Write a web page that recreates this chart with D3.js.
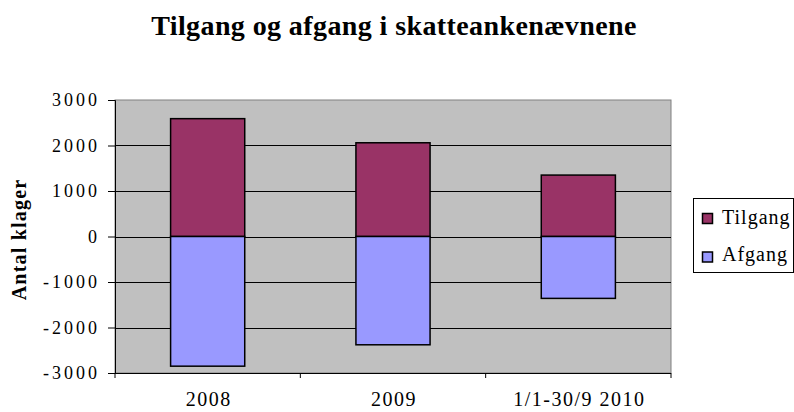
<!DOCTYPE html>
<html>
<head>
<meta charset="utf-8">
<script src="https://cdn.jsdelivr.net/npm/d3@7"></script>
<style>
  body { margin: 0; background: #fff; }
  svg text { font-family: "Liberation Serif", "Times New Roman", serif; fill: #000; }
</style>
</head>
<body>
<svg id="chart"></svg>
<script>
'use strict'

// data
const categories = ['2008', '2009', '1/1-30/9 2010']
const tilgang = [2590, 2060, 1350]
const afgang = [-2850, -2380, -1360]
const yTicks = [-3000, -2000, -1000, 0, 1000, 2000, 3000]
const seriesNames = ['Tilgang', 'Afgang']
const seriesColors = ['#993366', '#9999FF']

const width = 794, height = 412
const margins = {top: 100, right: 123, bottom: 39, left: 115}
const chartWidth = width - margins.left - margins.right
const chartHeight = height - margins.top - margins.bottom

const svg = d3.select('#chart').attr('width', width).attr('height', height)

// title
svg.append('text')
  .attr('x', 394).attr('y', 35)
  .attr('text-anchor', 'middle')
  .style('font-size', '28px').style('font-weight', 'bold').style('letter-spacing', '0.4px')
  .text('Tilgang og afgang i skatteankenævnene')

const g = svg.append('g').attr('transform', 'translate(' + margins.left + ',' + margins.top + ')')

const x = d3.scaleBand().domain(categories).range([0, chartWidth]).paddingInner(0.6).paddingOuter(0.3)
const y = d3.scaleLinear().domain([-3000, 3000]).range([chartHeight, 0])

// plot background
g.append('rect')
  .attr('width', chartWidth).attr('height', chartHeight)
  .attr('fill', '#C0C0C0').attr('stroke', '#808080').attr('stroke-width', 1)

// gridlines
g.selectAll('.grid').data(yTicks.filter(t => t > -3000 && t < 3000))
  .enter().append('line')
  .attr('x1', 0).attr('x2', chartWidth)
  .attr('y1', d => Math.round(y(d)) + 0.5).attr('y2', d => Math.round(y(d)) + 0.5)
  .attr('stroke', '#000').attr('stroke-width', 1)

// bars: positive part then negative part
const stacks = [tilgang, afgang]
stacks.forEach((vals, s) => {
  g.selectAll('.bar' + s).data(vals)
    .enter().append('rect')
    .attr('x', (d, i) => x(categories[i]))
    .attr('width', x.bandwidth())
    .attr('y', d => y(Math.max(0, d)))
    .attr('height', d => Math.abs(y(d) - y(0)))
    .attr('fill', seriesColors[s])
    .attr('stroke', '#000').attr('stroke-width', 1.5)
})

// y axis
const yAxis = g.append('g')
  .call(d3.axisLeft(y).tickValues(yTicks).tickSize(7).tickPadding(8).tickFormat(d => String(d)))
yAxis.select('.domain').attr('stroke', '#000')
yAxis.selectAll('text')
  .style('font-size', '18px').style('letter-spacing', '3px')
  .style('font-family', '"Liberation Serif", serif')

// x axis with ticks at category boundaries
const xAxis = g.append('g').attr('transform', 'translate(0,' + chartHeight + ')')
xAxis.append('line').attr('x1', 0).attr('x2', chartWidth).attr('y1', 0.5).attr('y2', 0.5).attr('stroke', '#000')
const step = chartWidth / categories.length
xAxis.selectAll('.xt').data(d3.range(categories.length + 1))
  .enter().append('line')
  .attr('x1', d => d * step).attr('x2', d => d * step)
  .attr('y1', 0).attr('y2', 5).attr('stroke', '#000')
xAxis.selectAll('.xl').data(categories)
  .enter().append('text')
  .attr('x', d => x(d) + x.bandwidth() / 2 + 1).attr('y', 33)
  .attr('text-anchor', 'middle')
  .style('font-size', '20px').style('letter-spacing', '1.5px')
  .text(d => d)

// y axis label
svg.append('text')
  .attr('transform', 'translate(26,' + (margins.top + chartHeight / 2 + 3) + ') rotate(-90)')
  .attr('text-anchor', 'middle')
  .style('font-size', '20px').style('font-weight', 'bold').style('letter-spacing', '1.2px')
  .text('Antal klager')

// legend
const legend = svg.append('g').attr('transform', 'translate(693,198)')
legend.append('rect').attr('x', 0.5).attr('y', 0.5).attr('width', 100).attr('height', 74)
  .attr('fill', '#fff').attr('stroke', '#000')
seriesNames.forEach((name, i) => {
  legend.append('rect')
    .attr('x', 9.5).attr('y', 15.5 + i * 38.5).attr('width', 10).attr('height', 10)
    .attr('fill', seriesColors[i]).attr('stroke', '#000').attr('stroke-width', 1.5)
  legend.append('text')
    .attr('x', 29).attr('y', 25.5 + i * 37)
    .style('font-size', '20px').style('letter-spacing', '1px')
    .text(name)
})
</script>
</body>
</html>
